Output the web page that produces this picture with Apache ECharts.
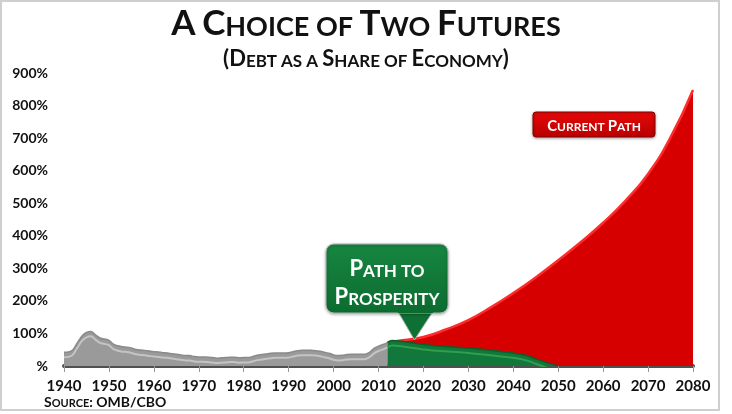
<!DOCTYPE html>
<html>
<head>
<meta charset="utf-8">
<script src="https://cdn.jsdelivr.net/npm/echarts@6/dist/echarts.min.js"></script>
<style>
html,body{margin:0;padding:0;background:#fff;}
#chart{width:732px;height:414px;}
</style>
</head>
<body>
<div id="chart"></div>
<script>
// ---- data ----
var histYears = [1940,1941,1942,1943,1944,1945,1946,1947,1948,1949,1950,1951,1952,1953,1954,1955,1956,1957,1958,1959,
  1960,1961,1962,1963,1964,1965,1966,1967,1968,1969,1970,1971,1972,1973,1974,1975,1976,1977,1978,1979,
  1980,1981,1982,1983,1984,1985,1986,1987,1988,1989,1990,1991,1992,1993,1994,1995,1996,1997,1998,1999,
  2000,2001,2002,2003,2004,2005,2006,2007,2008,2009,2010,2011,2012];
var histDebt = [42,43,50,72,92,103,106,96,86,83,79,67,62,59,58,55,51,49,48,46,
  44,43,41,40,38,36,34,32,32,29,28,28,27,26,24,25,26,27,27,25,
  26,26,29,33,35,37,39,40,40,40,41,44,47,48,48,48,47,45,42,39,
  34,32,33,35,36,36,36,36,42,54,61,66,72];

var currentYears = [2012,2015,2020,2025,2030,2035,2040,2045,2050,2055,2060,2065,2070,2075,2080];
var currentDebt  = [73,78,89,112,141,180,224,272,325,380,440,508,590,702,848];

var pathYears = [2012,2013,2015,2020,2025,2030,2035,2040,2043,2045,2047,2049,2050];
var pathDebt  = [72,78,76,66,60,55,48,40,32,22,12,4,0];

var yTicks = [0,100,200,300,400,500,600,700,800,900];
var xTicks = [1940,1950,1960,1970,1980,1990,2000,2010,2020,2030,2040,2050,2060,2070,2080];

function pairs(xs, ys){ return xs.map(function(x,i){ return [x, ys[i]]; }); }

var FONT = 'Lato';
var chart = echarts.init(document.getElementById('chart'));

var titleRich = {
  a:{fontFamily:FONT,fontWeight:'bold',fontSize:35,color:'#111',lineHeight:38,verticalAlign:'bottom'},
  b:{fontFamily:FONT,fontWeight:'bold',fontSize:27,color:'#111',lineHeight:32,verticalAlign:'bottom'}
};
var subRich = {
  a:{fontFamily:FONT,fontWeight:'bold',fontSize:22,color:'#111',lineHeight:26,verticalAlign:'bottom'},
  b:{fontFamily:FONT,fontWeight:'bold',fontSize:17,color:'#111',lineHeight:21,verticalAlign:'bottom'}
};
var srcRich = {
  a:{fontFamily:FONT,fontWeight:'bold',fontSize:14,color:'#111',lineHeight:16,verticalAlign:'bottom'},
  b:{fontFamily:FONT,fontWeight:'bold',fontSize:11,color:'#111',lineHeight:13,verticalAlign:'bottom'}
};

var option = {
  animation:false,
  backgroundColor:'#fff',
  title:[
    {text:'{a|A} {a|C}{b|HOICE} {b|OF} {a|T}{b|WO} {a|F}{b|UTURES}', left:'center', top:3, padding:0,
     textStyle:{fontFamily:FONT,fontWeight:'bold',fontSize:27,color:'#111',rich:titleRich}},
    {text:'{a|(D}{b|EBT AS A} {a|S}{b|HARE OF} {a|E}{b|CONOMY}{a|)}', left:'center', top:44, padding:0,
     textStyle:{fontFamily:FONT,fontWeight:'bold',fontSize:17,color:'#111',rich:subRich}},
    {text:'{a|S}{b|OURCE}{a|: OMB/CBO}', left:44, top:393, padding:0,
     textStyle:{fontFamily:FONT,fontWeight:'bold',fontSize:14,color:'#111',rich:srcRich}}
  ],
  grid:[
    {left:64, right:39, top:73, bottom:48},
    {left:64, right:39, top:73, bottom:48}
  ],
  xAxis:[
    {type:'value', gridIndex:0, min:1940, max:2080, interval:10,
     axisLine:{show:true,lineStyle:{color:'#505050',width:4}},
     axisTick:{show:true,length:6,lineStyle:{color:'#999',width:1}},
     splitLine:{show:false},
     axisLabel:{margin:13,fontFamily:FONT,fontWeight:'bold',fontSize:15,color:'#111',
       formatter:function(v){ return xTicks.indexOf(v)>=0 ? String(v) : ''; }}},
    {type:'value', gridIndex:1, min:1940, max:2080, show:false}
  ],
  yAxis:[
    {type:'value', gridIndex:0, min:0, max:900, interval:100,
     axisLine:{show:false}, axisTick:{show:false}, splitLine:{show:false},
     axisLabel:{margin:16,fontFamily:FONT,fontWeight:'bold',fontSize:14,color:'#111',
       formatter:function(v){ return yTicks.indexOf(v)>=0 ? (v===0?'%':v+'%') : ''; }}},
    {type:'value', gridIndex:1, min:15, max:915, show:false}
  ],
  series:[
    {name:'Current Path', type:'line', xAxisIndex:0, yAxisIndex:0, z:2,
     data:pairs(currentYears,currentDebt), smooth:0.5, symbol:'none',
     lineStyle:{color:'#ff2a2a',width:2.5},
     areaStyle:{color:'#d70000',opacity:1}},
    {name:'Path to Prosperity', type:'line', xAxisIndex:0, yAxisIndex:0, z:3,
     data:pairs(pathYears,pathDebt), smooth:0.3, symbol:'none',
     lineStyle:{color:'#0a5e29',width:1.5},
     areaStyle:{color:'#11773a',opacity:1}},
    {name:'Historical', type:'line', xAxisIndex:0, yAxisIndex:0, z:3,
     data:pairs(histYears,histDebt), smooth:0.3, symbol:'none',
     lineStyle:{color:'#8a8a8a',width:1.5},
     areaStyle:{color:'#9a9a9a',opacity:1}},
    {name:'hist-hl', type:'line', xAxisIndex:1, yAxisIndex:1, z:4, clip:true,
     data:pairs(histYears,histDebt), smooth:0.3, symbol:'none', silent:true,
     lineStyle:{color:'#c4c4c4',width:2}},
    {name:'path-hl', type:'line', xAxisIndex:1, yAxisIndex:1, z:4, clip:true,
     data:pairs(pathYears,pathDebt), smooth:0.3, symbol:'none', silent:true,
     lineStyle:{color:'#2f9e4d',width:2}}
  ]
};
chart.setOption(option);

var tip = chart.convertToPixel({gridIndex:0}, [2018, 80]);
var boxRich = function(big, small){
  return {
    a:{fontFamily:FONT,fontWeight:'bold',fontSize:big,fill:'#fff',lineHeight:big+2,verticalAlign:'bottom'},
    b:{fontFamily:FONT,fontWeight:'bold',fontSize:small,fill:'#fff',lineHeight:small+2,verticalAlign:'bottom'}
  };
};
chart.setOption({
  graphic:[
    {type:'rect', z:100, shape:{x:1,y:1,width:718,height:409}, style:{fill:'none',stroke:'#cfcfcf',lineWidth:2}, silent:true},
    {type:'rect', z:100, shape:{x:533,y:112,width:122,height:25,r:3},
     style:{fill:new echarts.graphic.LinearGradient(0,0,0,1,[{offset:0,color:'#e80808'},{offset:1,color:'#b80000'}]),
            stroke:'#8a0000',lineWidth:1,shadowBlur:3,shadowColor:'rgba(0,0,0,0.35)',shadowOffsetY:1}},
    {type:'text', z:101, x:594, y:125,
     style:{text:'{a|C}{b|URRENT} {a|P}{b|ATH}', align:'center', verticalAlign:'middle',
            fill:'#fff', font:'bold 12px '+FONT, rich:boxRich(15,12)}},
    {type:'polygon', z:100, shape:{points:[[397,310],[434,310],[tip[0],tip[1]]]},
     style:{fill:'#0e7034',stroke:'#b5b5b5',lineWidth:1}},
    {type:'rect', z:100, shape:{x:326,y:244,width:122,height:69,r:8},
     style:{fill:new echarts.graphic.LinearGradient(0,0,0,1,[{offset:0,color:'#178641'},{offset:1,color:'#0c6c30'}]),
            stroke:'#b5b5b5',lineWidth:1,shadowBlur:3,shadowColor:'rgba(0,0,0,0.3)',shadowOffsetY:1}},
    {type:'rect', z:101, shape:{x:398,y:305,width:35,height:8}, style:{fill:'#0c6c30'}},
    {type:'text', z:102, x:387, y:268,
     style:{text:'{a|P}{b|ATH TO}', align:'center', verticalAlign:'middle', fill:'#fff', font:'bold 17px '+FONT, rich:boxRich(22,17)}},
    {type:'text', z:102, x:387, y:296,
     style:{text:'{a|P}{b|ROSPERITY}', align:'center', verticalAlign:'middle', fill:'#fff', font:'bold 17px '+FONT, rich:boxRich(22,17)}}
  ]
});
</script>
</body>
</html>
